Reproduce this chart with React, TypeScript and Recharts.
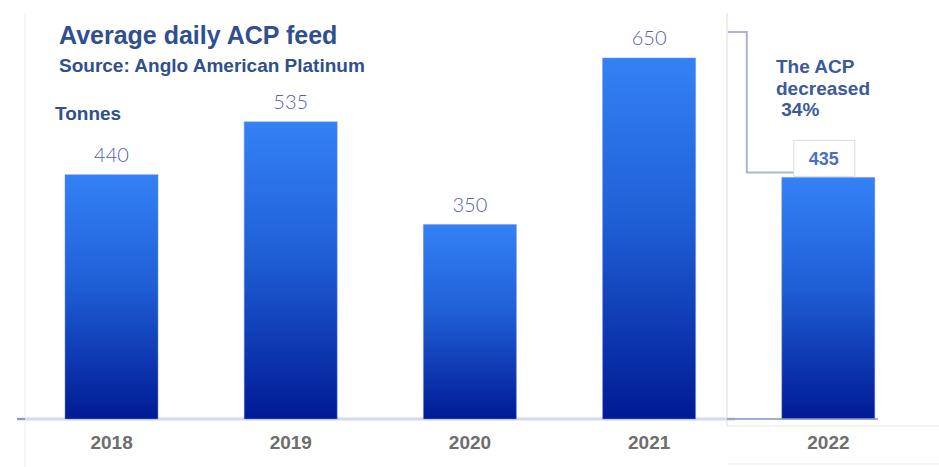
import { BarChart, Bar, XAxis, YAxis, LabelList } from "recharts";

// values
const years = ["2018", "2019", "2020", "2021", "2022"];
const tonnes = [440, 535, 350, 650, 435];
const noteLines = ["The ACP", "decreased", " 34%"];

const data = years.map((year, i) => ({ year, tonnes: tonnes[i] }));

const titleColor = "#2f4f8f";
const font = "Liberation Sans, Arial, sans-serif";

const ValueLabel = (props: any) => {
  const { x, y, width, value, index } = props;
  const cx = x + width / 2;
  if (index === years.length - 1) {
    // last bar: value in a boxed callout with the bracket from the previous year
    return (
      <g>
        <polyline
          points={`${x - 54},32 ${x - 35},32 ${x - 35},${y - 5} ${x + 13},${y - 5}`}
          fill="none"
          stroke="#a9b4d8"
          strokeWidth={2}
        />
        <rect x={x + 12} y={y - 37} width={61} height={36} fill="#fff" stroke="#dcdcdc" />
        <text
          x={x + 42}
          y={y - 12}
          textAnchor="middle"
          fontFamily={font}
          fontWeight="bold"
          fontSize={18}
          fill="#4a70c4"
        >
          {value}
        </text>
      </g>
    );
  }
  return (
    <text
      x={cx}
      y={y - 13}
      textAnchor="middle"
      fontFamily="Lato, sans-serif"
      fontWeight={300}
      fontSize={20}
      fill="#5560b0"
    >
      {value}
    </text>
  );
};

const YearTick = (props: any) => {
  const { x, y, payload } = props;
  return (
    <text
      x={x}
      y={y + 22}
      textAnchor="middle"
      fontFamily={font}
      fontWeight="bold"
      fontSize={19}
      fill="#6e6e6e"
    >
      {payload.value}
    </text>
  );
};

export default function App() {
  return (
    <div style={{ position: "absolute", left: 0, top: 0, width: 939, height: 467, background: "#fff" }}>
      <svg width={939} height={467} style={{ position: "absolute", left: 0, top: 0 }}>
        <line x1={25} y1={13} x2={25} y2={467} stroke="#ececec" />
        <line x1={727} y1={13} x2={727} y2={426} stroke="#dddddd" />
        <line x1={727} y1={426} x2={939} y2={426} stroke="#e6e6e6" />
        <line x1={727} y1={464} x2={939} y2={464} stroke="#ececec" />
        <line x1={17} y1={419} x2={735} y2={419} stroke="#d3d8f3" strokeWidth={3} />
      </svg>
      <div style={{ position: "absolute", left: 0, top: 0 }}>
        <BarChart
          width={939}
          height={467}
          data={data}
          margin={{ top: 58, right: 21, bottom: 0, left: 22 }}
          barSize={93}
        >
          <defs>
            <linearGradient id="barFill" x1="0" y1="0" x2="0" y2="1">
              <stop offset="0%" stopColor="#3481f6" />
              <stop offset="45%" stopColor="#1f5fd6" />
              <stop offset="100%" stopColor="#001a94" />
            </linearGradient>
          </defs>
          <XAxis
            dataKey="year"
            axisLine={false}
            tickLine={false}
            height={48}
            tick={<YearTick />}
            interval={0}
          />
          <YAxis hide domain={[0, 650]} />
          <Bar dataKey="tonnes" fill="url(#barFill)" stroke="#6f8fe8" strokeWidth={0.5} isAnimationActive={false}>
            <LabelList dataKey="tonnes" content={<ValueLabel />} />
          </Bar>
        </BarChart>
      </div>
      <svg width={939} height={467} style={{ position: "absolute", left: 0, top: 0, pointerEvents: "none" }}>
        <line x1={17} y1={419} x2={25} y2={419} stroke="#8d97c6" strokeWidth={2} />
        <line x1={727} y1={419} x2={878} y2={419} stroke="#8394c4" strokeWidth={1.5} />
      </svg>
      <div
        style={{
          position: "absolute",
          left: 59,
          top: 20,
          fontFamily: font,
          fontWeight: "bold",
          color: titleColor,
        }}
      >
        <div style={{ fontSize: 25, lineHeight: "30px" }}>Average daily ACP feed</div>
        <div style={{ fontSize: 19, lineHeight: "22px", marginTop: 5 }}>Source: Anglo American Platinum</div>
      </div>
      <div
        style={{
          position: "absolute",
          left: 55,
          top: 103,
          fontFamily: font,
          fontWeight: "bold",
          fontSize: 19,
          lineHeight: "22px",
          color: titleColor,
        }}
      >
        Tonnes
      </div>
      <div
        style={{
          position: "absolute",
          left: 776,
          top: 56,
          fontFamily: font,
          fontWeight: "bold",
          fontSize: 19,
          lineHeight: "21.5px",
          color: "#3a5a9a",
          whiteSpace: "pre",
        }}
      >
        {noteLines.map((l) => (
          <div key={l}>{l}</div>
        ))}
      </div>
    </div>
  );
}
